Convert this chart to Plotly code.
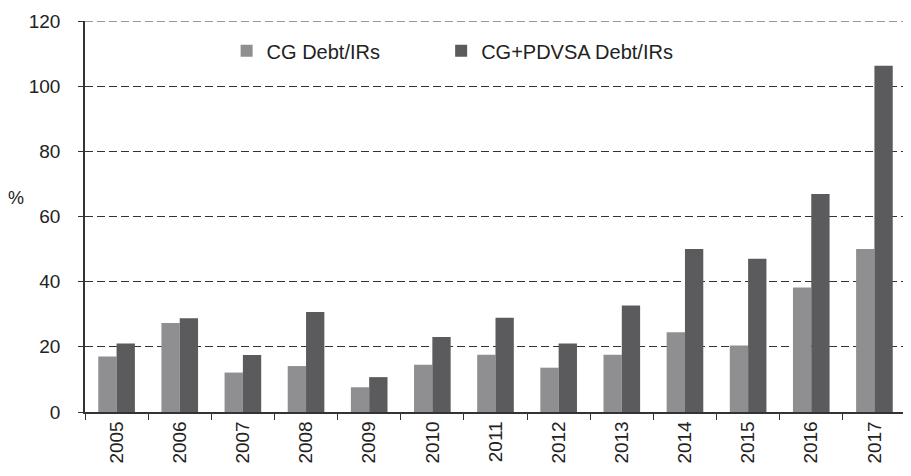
import plotly.graph_objects as go

years = ['2005', '2006', '2007', '2008', '2009', '2010', '2011',
         '2012', '2013', '2014', '2015', '2016', '2017']
cg_debt = [17.0, 27.3, 12.1, 14.1, 7.6, 14.5, 17.6, 13.6, 17.6, 24.5, 20.4, 38.2, 50.0]
cg_pdvsa_debt = [21.0, 28.8, 17.5, 30.7, 10.7, 23.0, 28.9, 21.0, 32.7, 50.0, 47.0, 66.9, 106.3]

fig = go.Figure()
fig.add_trace(go.Bar(x=years, y=cg_debt, name='CG Debt/IRs', legend='legend',
                     marker=dict(color='#8f8f92', line=dict(width=0))))
fig.add_trace(go.Bar(x=years, y=cg_pdvsa_debt, name='CG+PDVSA Debt/IRs', legend='legend2',
                     marker=dict(color='#5b5b5d', line=dict(width=0))))

# y label sits horizontally left of the axis
fig.add_annotation(text='%', xref='paper', yref='paper', x=-0.084, y=0.547,
                   xanchor='center', yanchor='middle',
                   showarrow=False, font=dict(size=18, color='#222'))

# dashed top gridline at 120 (plotly skips the gridline on the range edge)
fig.add_shape(type='line', xref='paper', yref='y', x0=0, x1=1, y0=120, y1=120,
              line=dict(color='#333', width=1, dash='8px,4px'))

legend_style = dict(orientation='h', y=0.924, xanchor='left', yanchor='middle',
                    font=dict(size=20), bgcolor='rgba(0,0,0,0)')

# page body has an 8px margin, so the figure is sized/offset to compensate
fig.update_layout(
    width=903, height=468,
    margin=dict(l=77, r=3, t=7, b=64),
    paper_bgcolor='white', plot_bgcolor='white',
    font=dict(family='Liberation Sans, Arial, sans-serif', size=19, color='#222'),
    barmode='group', bargap=0.42, bargroupgap=0,
    showlegend=True,
    legend=dict(x=0.1725, **legend_style),
    legend2=dict(x=0.4338, **legend_style),
    xaxis=dict(showline=True, linecolor='#333', linewidth=1.5,
               ticks='outside', tickson='boundaries', ticklen=6, tickcolor='#333',
               tickangle=-90, showgrid=False, tickfont=dict(size=19)),
    yaxis=dict(range=[0, 120], dtick=20, showline=True, linecolor='#333', linewidth=1.5,
               mirror=True, ticks='outside', ticklen=5, tickcolor='#333',
               ticklabelstandoff=14, ticklabeloverflow='allow',
               showgrid=True, gridcolor='#333', griddash='8px,4px', gridwidth=1,
               zeroline=False, tickfont=dict(size=19)),
)

fig.write_html("out.html")
